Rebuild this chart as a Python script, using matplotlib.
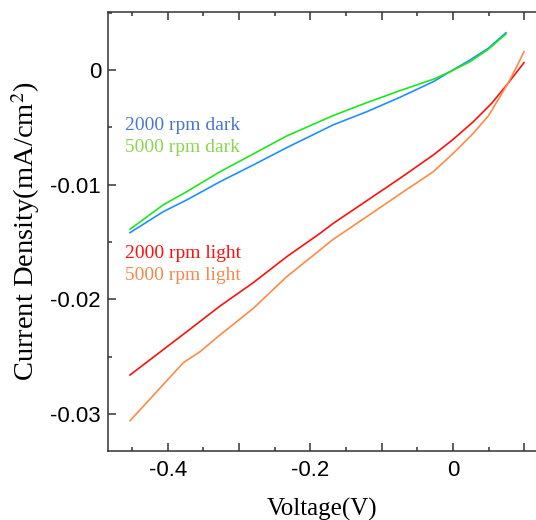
import numpy as np
import matplotlib.pyplot as plt
from matplotlib.ticker import MultipleLocator, FuncFormatter

plt.rcParams['mathtext.fontset'] = 'stix'

# Valores (V, mA/cm2)
v_dark = [-0.453, -0.4063, -0.3735, -0.3268, -0.2801, -0.2332, -0.1865, -0.1679,
          -0.121, -0.0743, -0.0276, -0.0042, 0.0238, 0.0495, 0.0743]
j_dark_2000 = [-0.01418, -0.01235, -0.01133, -0.00974, -0.00828, -0.00677, -0.00535, -0.00478,
               -0.00364, -0.00238, -0.00102, -0.00015, 0.00087, 0.00189, 0.00325]
j_dark_5000 = [-0.01389, -0.01175, -0.01061, -0.00887, -0.00732, -0.00575, -0.00448, -0.00397,
               -0.00285, -0.0018, -0.00081, -0.00015, 0.00072, 0.0018, 0.00314]

v_light_2000 = [-0.453, -0.3735, -0.3268, -0.2801, -0.2332, -0.1865, -0.1679, -0.121,
                -0.0743, -0.0276, 0.0004, 0.0285, 0.0543, 0.0753, 0.0996]
j_light_2000 = [-0.02659, -0.02282, -0.02058, -0.01854, -0.01628, -0.01424, -0.01337, -0.0114,
                -0.00944, -0.00741, -0.00604, -0.00451, -0.0029, -0.00131, 0.00064]

v_light_5000 = [-0.453, -0.3783, -0.3548, -0.3268, -0.2801, -0.2332, -0.1865, -0.1693, -0.121,
                -0.0743, -0.0276, 0.0004, 0.0285, 0.0495, 0.0659, 0.0776, 0.0893, 0.0996]
j_light_5000 = [-0.03058, -0.02552, -0.02456, -0.0231, -0.02078, -0.01802, -0.01569, -0.01482, -0.01279,
                -0.01081, -0.00887, -0.00726, -0.00552, -0.00401, -0.00233, -0.00111, 0.00029, 0.0016]

etiquetas = ['2000 rpm dark', '5000 rpm dark', '2000 rpm light', '5000 rpm light']
colores_linea = ['#1E8FFF', '#1EE61E', '#FF1010', '#FF8A45']
colores_texto = ['#4A78C8', '#8ED44E', '#FF1010', '#F28A4E']

fig = plt.figure(figsize=(5.36, 5.20), dpi=100)
ax = fig.add_axes([0.2015, 0.1333, 0.7985, 0.8442])

series = [(v_dark, j_dark_2000), (v_dark, j_dark_5000),
          (v_light_2000, j_light_2000), (v_light_5000, j_light_5000)]
for (v, j), c in zip(series, colores_linea):
    ax.plot(v, j, color=c, lw=1.2)

ax.set_xlim(-0.4839, 0.1164)
ax.set_ylim(-0.03319, 0.00508)

# Ejes y marcas
ax.spines['right'].set_visible(False)
for s in ['left', 'bottom', 'top']:
    ax.spines[s].set_color('#333333')
    ax.spines[s].set_linewidth(1.1)

ax.xaxis.set_major_locator(MultipleLocator(0.1))
ax.xaxis.set_minor_locator(MultipleLocator(0.05))
ax.yaxis.set_major_locator(MultipleLocator(0.01))
ax.yaxis.set_minor_locator(MultipleLocator(0.005))

def fmt_x(val, pos):
    k = int(round(val * 10))
    if k % 2 != 0:
        return ''
    return '0' if k == 0 else f'{val:.1f}'

def fmt_y(val, pos):
    k = int(round(val * 100))
    return '0' if k == 0 else f'{val:.2f}'

ax.xaxis.set_major_formatter(FuncFormatter(fmt_x))
ax.yaxis.set_major_formatter(FuncFormatter(fmt_y))

ax.tick_params(which='both', direction='in', top=True, right=False,
               color='#333333', width=1.1)
ax.tick_params(which='major', length=6)
ax.tick_params(which='minor', length=3)
ax.tick_params(axis='x', which='major', pad=7)
ax.tick_params(axis='y', which='major', pad=5)
for lab in ax.get_xticklabels() + ax.get_yticklabels():
    lab.set_fontfamily('Liberation Sans')
    lab.set_fontsize(16)

ax.set_xlabel('Voltage(V)', family='Liberation Serif', fontsize=18, labelpad=12)
ax.set_ylabel('Current Density(mA/cm$^2$)', family='Liberation Serif', fontsize=20.5, labelpad=6)

# Etiquetas de las curvas
posiciones = [(125, 125), (125, 147), (125, 253), (125, 276)]
for (px, py), texto, c in zip(posiciones, etiquetas, colores_texto):
    fig.text(px / 536, 1 - py / 520, texto, color=c, family='Liberation Serif',
             fontsize=14, va='center', ha='left')

fig.savefig('out.png', dpi=100)
